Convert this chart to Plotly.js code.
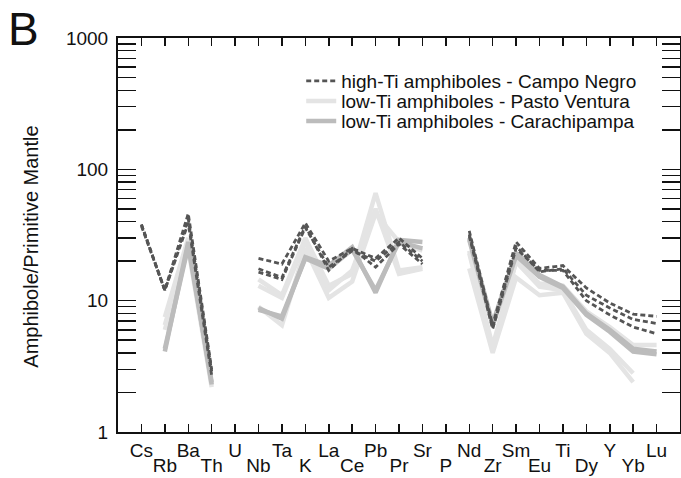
<!DOCTYPE html>
<html>
<head>
<meta charset="utf-8">
<script src="https://cdn.plot.ly/plotly-3.0.1.min.js"></script>
<style>html,body{margin:0;padding:0;background:#fff;}#chart{width:681px;height:478px;}</style>
</head>
<body>
<div id="chart"></div>
<script>
// Element categories (normalized to primitive mantle)
const elements = ["Cs","Rb","Ba","Th","U","Nb","Ta","K","La","Ce","Pb","Pr","Sr","P","Nd","Zr","Sm","Eu","Ti","Dy","Y","Yb","Lu"];

// high-Ti amphiboles - Campo Negro
const campoNegro1 = [38, 12, 46, 3.0, null, 21, 19, 39, 20, 25, 21, 30, 21, null, 34, 6.5, 28, 17.6, 18.5, 12.5, 9.6, 7.9, 7.6];
const campoNegro2 = [38, 12, 42, 2.9, null, 17.5, 15, 37, 17, 25, 18, 27, 19, null, 32, 6.3, 26, 16.6, 17.5, 11, 8.8, 7.2, 6.7];
const campoNegro3 = [37, 12, 39, 2.7, null, 16.5, 14.5, 36, 18, 24, 20, 28, 20, null, 31, 6.1, 25, 17, 17, 10, 7.8, 6.3, 5.6];

// low-Ti amphiboles - Pasto Ventura
const pastoVentura1 = [null, 7.5, 30, 2.3, null, 14.5, 11, 30, 13, 16, 66, 17, 18, null, 24, 4.2, 20, 13.5, 13, 8.3, 6.3, 4.6, 4.6];
const pastoVentura2 = [null, 6.5, 27, 2.3, null, 9, 6.5, 25, 10.5, 14, 46, 28, 24, null, 17.6, 4.0, 15, 11, 11.5, 5.6, 4.0, 2.4, null];
const pastoVentura3 = [null, 6, 25, 2.2, null, 13, 10.5, 28, 12, 17, 50, 16, 17.5, null, 23, 4.5, 19.8, 12.8, 12, 6, 4.3, 2.8, null];

// low-Ti amphiboles - Carachipampa
const carachipampa1 = [null, 4.1, 28, 2.3, null, 8.8, 7.3, 21.5, 18.5, 25.5, 11.5, 29, 28, null, 30, 6.7, 23, 15.7, 12.8, 8, 6, 4.3, 4.1];
const carachipampa2 = [null, 4.3, 26, 2.4, null, 8.5, 7.6, 21, 17.5, 24.5, 12, 28, 25, null, 29, 6.5, 22, 15.2, 12.5, 7.8, 5.8, 4.1, 3.9];

const idx = elements.map((_, i) => i);
const evenLabels = elements.map((e, i) => i % 2 === 0 ? e : "");
const oddVals = idx.filter(i => i % 2 === 1);
const oddLabels = oddVals.map(i => elements[i]);

function tr(y, color, width, dash, name, leg, show) {
  return {
    x: idx, y: y, type: "scatter", mode: "lines",
    line: {color: color, width: width, dash: dash},
    name: name, legend: leg, showlegend: show,
    connectgaps: false, hoverinfo: "skip"
  };
}

const light = "#e4e4e4", medium = "#bcbcbc", dark = "#555555";
const dashPat = "5px,3px";
const data = [
  tr(pastoVentura1, light, 4.5, "solid", "low-Ti amphiboles - Pasto Ventura", "legend2", true),
  tr(pastoVentura2, light, 4.5, "solid", "low-Ti amphiboles - Pasto Ventura", "legend2", false),
  tr(pastoVentura3, light, 4.5, "solid", "low-Ti amphiboles - Pasto Ventura", "legend2", false),
  tr(carachipampa1, medium, 4.5, "solid", "low-Ti amphiboles - Carachipampa", "legend3", true),
  tr(carachipampa2, medium, 4.5, "solid", "low-Ti amphiboles - Carachipampa", "legend3", false),
  tr(campoNegro1, dark, 2.8, dashPat, "high-Ti amphiboles - Campo Negro", "legend", true),
  tr(campoNegro2, dark, 2.8, dashPat, "high-Ti amphiboles - Campo Negro", "legend", false),
  tr(campoNegro3, dark, 2.8, dashPat, "high-Ti amphiboles - Campo Negro", "legend", false),
];
// hidden trace to carry the second (odd) label row
data.push({x: [0], y: [1], xaxis: "x2", type: "scatter", mode: "none", showlegend: false, hoverinfo: "skip"});

const font = "Liberation Sans, Arial, sans-serif";
const legBase = {x: 0.326, xanchor: "left", yanchor: "middle", bgcolor: "rgba(0,0,0,0)",
                 font: {size: 19, family: font, color: "#111"}};
const layout = {
  width: 681, height: 478,
  margin: {l: 118, r: 1, t: 38, b: 46},
  paper_bgcolor: "#fff", plot_bgcolor: "#fff",
  font: {family: font, color: "#111", size: 19},
  showlegend: true,
  legend: Object.assign({}, legBase, {y: 0.891}),
  legend2: Object.assign({}, legBase, {y: 0.840}),
  legend3: Object.assign({}, legBase, {y: 0.789}),
  xaxis: {
    range: [-1, 23], tickmode: "array", tickvals: idx, ticktext: evenLabels,
    ticks: "inside", ticklen: 8, tickwidth: 1.5, tickcolor: "#111",
    showline: true, linecolor: "#111", linewidth: 2, mirror: "allticks",
    showgrid: false, zeroline: false, tickfont: {size: 19}
  },
  xaxis2: {
    overlaying: "x", side: "bottom", range: [-1, 23], tickmode: "array",
    tickvals: oddVals, ticktext: oddLabels, ticks: "", showline: false, showgrid: false,
    zeroline: false, ticklabelstandoff: 20, tickfont: {size: 19}
  },
  yaxis: {
    type: "log", range: [0, 3], tickmode: "array", tickvals: [1, 10, 100, 1000], ticktext: ["1", "10", "100", "1000"],
    ticks: "inside", ticklen: 18, tickwidth: 1.5, tickcolor: "#111", ticklabelstandoff: 4,
    minor: {ticks: "inside", ticklen: 10, tickwidth: 1.5, tickcolor: "#111", dtick: "D1", showgrid: false},
    showline: true, linecolor: "#111", linewidth: 2, mirror: "allticks",
    showgrid: false, zeroline: false, tickfont: {size: 19}
  },
  annotations: [
    {text: "B", xref: "paper", yref: "paper", x: -0.2, y: 1.094, xanchor: "left", yanchor: "top",
     showarrow: false, font: {size: 46, family: font, color: "#111"}},
    {text: "Amphibole/Primitive Mantle", xref: "paper", yref: "paper", x: -0.155, y: 0.47,
     xanchor: "center", yanchor: "middle", textangle: -90, showarrow: false,
     font: {size: 20, family: font, color: "#111"}}
  ]
};

Plotly.newPlot("chart", data, layout, {displayModeBar: false, staticPlot: true});
</script>
</body>
</html>
